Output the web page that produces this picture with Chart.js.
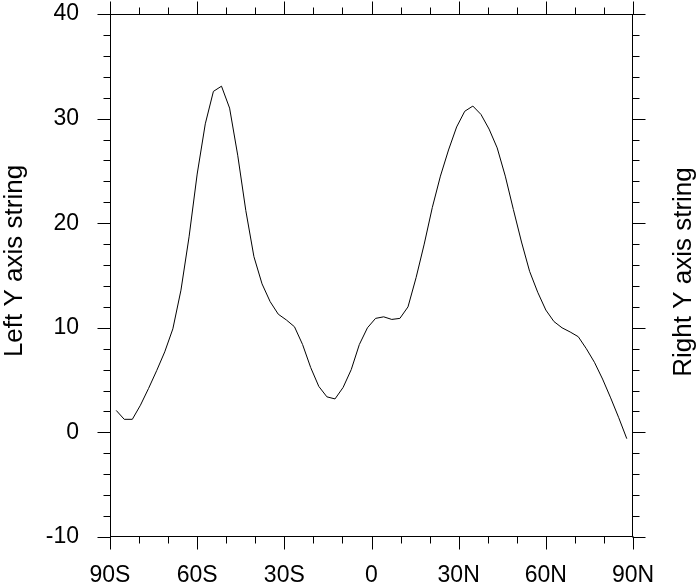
<!DOCTYPE html>
<html lang="en">
<head>
    <meta charset="UTF-8">
    <title>Zonal profile</title>
    <script src="https://cdn.jsdelivr.net/npm/chart.js"></script>
    <style>
        body { margin: 0; background: white; }
        canvas { display: block; }
    </style>
</head>
<body>
    <canvas id="profileChart" width="700" height="586"></canvas>

    <script>
        // gaussian latitudes (64)
        const lats = [
            -87.8638, -85.0965, -82.3129, -79.5256, -76.7369, -73.9475, -71.1578, -68.3678,
            -65.5776, -62.7874, -59.9970, -57.2066, -54.4162, -51.6257, -48.8352, -46.0447,
            -43.2542, -40.4636, -37.6731, -34.8825, -32.0920, -29.3014, -26.5108, -23.7202,
            -20.9296, -18.1390, -15.3484, -12.5578, -9.7671, -6.9765, -4.1859, -1.3953,
            1.3953, 4.1859, 6.9765, 9.7671, 12.5578, 15.3484, 18.1390, 20.9296,
            23.7202, 26.5108, 29.3014, 32.0920, 34.8825, 37.6731, 40.4636, 43.2542,
            46.0447, 48.8352, 51.6257, 54.4162, 57.2066, 59.9970, 62.7874, 65.5776,
            68.3678, 71.1578, 73.9475, 76.7369, 79.5256, 82.3129, 85.0965, 87.8638
        ];
        const values = [
            2.1, 1.25, 1.25, 2.6, 4.2, 5.9, 7.7, 9.9,
            13.6, 18.7, 24.7, 29.5, 32.6, 33.1, 31.0, 26.5,
            21.2, 16.8, 14.2, 12.5, 11.3, 10.75, 10.1, 8.4,
            6.2, 4.4, 3.4, 3.2, 4.3, 6.0, 8.4, 10.0,
            10.9, 11.05, 10.8, 10.9, 12.0, 14.8, 18.0, 21.5,
            24.5, 27.0, 29.2, 30.7, 31.2, 30.4, 29.0, 27.2,
            24.5, 21.3, 18.2, 15.4, 13.4, 11.7, 10.6, 10.0,
            9.6, 9.15, 8.0, 6.7, 5.1, 3.3, 1.4, -0.6
        ];

        const xTicks = [-90, -60, -30, 0, 30, 60, 90];
        const xTickLabels = ["90S", "60S", "30S", "0", "30N", "60N", "90N"];
        const xMinor = [-80, -70, -50, -40, -20, -10, 10, 20, 40, 50, 70, 80];
        const yTicks = [-10, 0, 10, 20, 30, 40];
        const yMinor = [-8, -6, -4, -2, 2, 4, 6, 8, 12, 14, 16, 18, 22, 24, 26, 28, 32, 34, 36, 38];

        const leftTitle = "Left Y axis string";
        const rightTitle = "Right Y axis string";

        const FONT = "'Liberation Sans', Arial, Helvetica, sans-serif";

        // frame, tickmarks on all four sides, axis strings
        const framePlugin = {
            id: "frame",
            afterDraw(chart) {
                const ctx = chart.ctx;
                const a = chart.chartArea;
                const xs = chart.scales.x, ys = chart.scales.y;
                const L = Math.round(a.left) + 0.5, R = Math.round(a.right) - 0.5;
                const T = Math.round(a.top) + 0.5, B = Math.round(a.bottom) - 0.5;
                ctx.save();
                ctx.strokeStyle = "#000";
                ctx.lineWidth = 1;
                ctx.strokeRect(L, T, R - L, B - T);

                ctx.beginPath();
                function xtick(v, len) {
                    const p = Math.round(xs.getPixelForValue(v)) + 0.5;
                    ctx.moveTo(p, B); ctx.lineTo(p, B + len);
                    ctx.moveTo(p, T); ctx.lineTo(p, T - len);
                }
                function ytick(v, len) {
                    const p = Math.round(ys.getPixelForValue(v)) + 0.5;
                    ctx.moveTo(L, p); ctx.lineTo(L - len, p);
                    ctx.moveTo(R, p); ctx.lineTo(R + len, p);
                }
                xTicks.forEach(v => xtick(v, 13));
                xMinor.forEach(v => xtick(v, 7));
                yTicks.forEach(v => ytick(v, 13));
                yMinor.forEach(v => ytick(v, 7));
                ctx.stroke();

                ctx.fillStyle = "#000";
                ctx.font = "26px " + FONT;
                ctx.textAlign = "center";
                ctx.textBaseline = "alphabetic";
                ctx.save();
                ctx.translate(22, 261);
                ctx.rotate(-Math.PI / 2);
                ctx.fillText(leftTitle, 0, 0);
                ctx.restore();
                ctx.save();
                ctx.translate(691, 272);
                ctx.rotate(-Math.PI / 2);
                ctx.fillText(rightTitle, 0, 0);
                ctx.restore();
                ctx.restore();
            }
        };

        new Chart(document.getElementById("profileChart").getContext("2d"), {
            type: "line",
            data: {
                datasets: [{
                    data: lats.map((lat, i) => ({ x: lat, y: values[i] })),
                    borderColor: "#000",
                    borderWidth: 1,
                    pointRadius: 0,
                    tension: 0,
                    fill: false
                }]
            },
            options: {
                responsive: false,
                animation: false,
                devicePixelRatio: 1,
                layout: { padding: { top: 14, right: 67, left: 0, bottom: 0 } },
                plugins: { legend: { display: false }, tooltip: { enabled: false } },
                scales: {
                    x: {
                        type: "linear",
                        min: -90,
                        max: 90,
                        afterBuildTicks: s => { s.ticks = xTicks.map(v => ({ value: v })); },
                        afterFit: s => {
                            s.height = 49;
                            s.paddingLeft = 0; s.paddingRight = 0;
                        },
                        ticks: {
                            autoSkip: false,
                            maxRotation: 0,
                            padding: 12,
                            color: "#000",
                            font: { family: FONT, size: 23 },
                            callback: v => xTickLabels[xTicks.indexOf(v)]
                        },
                        grid: { drawOnChartArea: false, drawTicks: true, tickLength: 13, tickColor: "rgba(0,0,0,0)" },
                        border: { display: false }
                    },
                    y: {
                        min: -10,
                        max: 40,
                        afterBuildTicks: s => { s.ticks = yTicks.map(v => ({ value: v })); },
                        afterFit: s => {
                            s.width = 110;
                            s.paddingTop = 0; s.paddingBottom = 0;
                        },
                        ticks: {
                            padding: 18,
                            color: "#000",
                            font: { family: FONT, size: 23 }
                        },
                        grid: { drawOnChartArea: false, drawTicks: true, tickLength: 13, tickColor: "rgba(0,0,0,0)" },
                        border: { display: false }
                    }
                }
            },
            plugins: [framePlugin]
        });
    </script>
</body>
</html>
